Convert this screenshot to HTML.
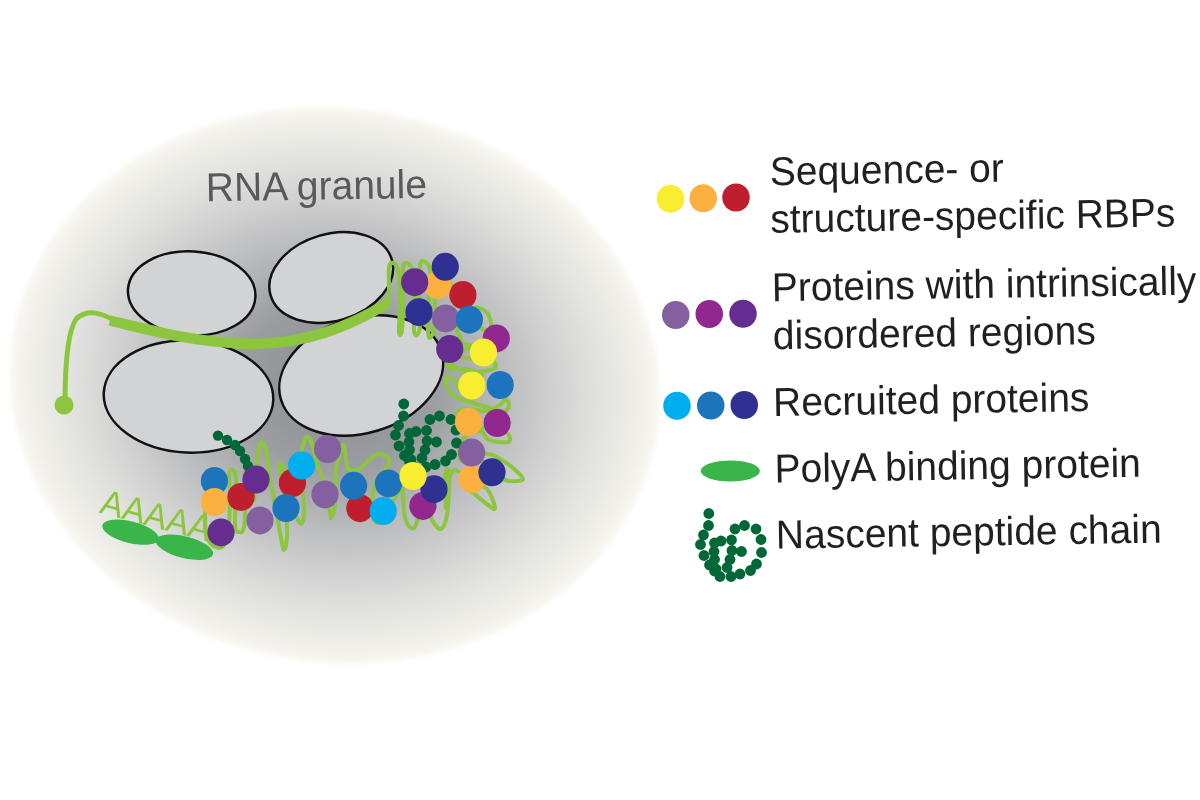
<!DOCTYPE html>
<html><head><meta charset="utf-8">
<style>
html,body{margin:0;padding:0;background:#fff;width:1200px;height:800px;overflow:hidden}
svg{display:block;will-change:transform}
text{font-family:"Liberation Sans",sans-serif}
</style></head>
<body>
<svg width="1200" height="800" viewBox="0 0 1200 800">
<defs>
<radialGradient id="bg" cx="0.5" cy="0.5" r="0.5">
<stop offset="0" stop-color="#8a8b8e"/>
<stop offset="0.3" stop-color="#9c9da0"/>
<stop offset="0.5" stop-color="#b8b9bb"/>
<stop offset="0.7" stop-color="#d4d4d4"/>
<stop offset="0.85" stop-color="#e6e6e2"/>
<stop offset="0.95" stop-color="#f1f0e9"/>
<stop offset="1" stop-color="#f9f8f2"/>
</radialGradient>
<filter id="soft" x="-2%" y="-2%" width="104%" height="104%"><feGaussianBlur stdDeviation="2.5"/></filter>
<g id="chain" fill="#006838">
<circle cx="708.8" cy="513.5" r="5.4"/>
<circle cx="708.5" cy="525.5" r="5.4"/>
<circle cx="703.5" cy="535" r="5.4"/>
<circle cx="700.5" cy="544.5" r="5.4"/>
<circle cx="704" cy="555.5" r="5.4"/>
<circle cx="709.5" cy="565" r="5.4"/>
<circle cx="714.5" cy="571" r="5.4"/>
<circle cx="720" cy="576.5" r="5.4"/>
<circle cx="731" cy="576.5" r="5.4"/>
<circle cx="740" cy="574" r="5.4"/>
<circle cx="750.5" cy="570.5" r="5.4"/>
<circle cx="756.5" cy="564" r="5.4"/>
<circle cx="761.5" cy="552.5" r="5.4"/>
<circle cx="761" cy="539.5" r="5.4"/>
<circle cx="756" cy="529" r="5.4"/>
<circle cx="744.5" cy="525.5" r="5.4"/>
<circle cx="735" cy="529" r="5.4"/>
<circle cx="731.5" cy="540" r="5.4"/>
<circle cx="732" cy="550.5" r="5.4"/>
<circle cx="730" cy="559.5" r="5.4"/>
<circle cx="727" cy="567.5" r="5.4"/>
<circle cx="741.5" cy="551.5" r="5.4"/>
<circle cx="721" cy="541" r="5.4"/>
<circle cx="714.5" cy="543" r="5.4"/>
<circle cx="714" cy="551.5" r="5.4"/>
<circle cx="714.5" cy="559.5" r="5.4"/>
<circle cx="716" cy="569" r="5.4"/>
</g>
</defs>

<!-- granule background -->
<ellipse cx="335" cy="385.3" rx="326" ry="277.4" fill="url(#bg)" filter="url(#soft)" transform="rotate(7.6 335 385.3)"/>

<!-- ribosomes / large grey ellipses -->
<g fill="#d1d3d4" stroke="#111" stroke-width="2.5">
<ellipse cx="191.7" cy="293.3" rx="63.8" ry="42" transform="rotate(3.6 191.7 293.3)"/>
<ellipse cx="331.2" cy="277.5" rx="63.2" ry="43.4" transform="rotate(-16.5 331.2 277.5)"/>
<ellipse cx="188.5" cy="396.6" rx="84.8" ry="56" transform="rotate(2.5 188.5 396.6)"/>
<ellipse cx="361.2" cy="375.5" rx="83.8" ry="57.5" transform="rotate(-16.8 361.2 375.5)"/>
</g>

<!-- mRNA line -->
<g fill="none" stroke="#8cc63f" stroke-linecap="round">
<path d="M112,319 C100,313 88,309 77,318 C67,330 65,370 65,404" stroke-width="5"/>
<path d="M110,320.5 C150,330 200,344 255,344 C305,343 345,329 388,303" stroke-width="10.5" stroke-linecap="butt"/>
</g>
<circle cx="64" cy="405" r="9.5" fill="#8cc63f"/>

<text transform="translate(98.5 512.4) rotate(15) scale(1 1.035)" font-size="34" fill="#8cc63f">AAAAA</text>
<ellipse cx="130.5" cy="532.2" rx="29" ry="10.8" transform="rotate(14 130.5 532.2)" fill="#39b54a"/>
<ellipse cx="184.4" cy="547.2" rx="29.5" ry="10.8" transform="rotate(14 184.4 547.2)" fill="#39b54a"/>
<!-- squiggle -->
<path id="sq" d="M205,512 C205.2,515.3 204.8,526.5 206,532 C207.2,537.5 209.3,542.5 212,545 C214.7,547.5 219.3,548.7 222,547 C224.7,545.3 226.7,542.8 228,535 C229.3,527.2 229.8,510.2 230,500 C230.2,489.8 228.5,479.0 229,474 C229.5,469.0 231.8,469.0 233,470 C234.2,471.0 235.7,470.8 236,480 C236.3,489.2 234.5,516.3 235,525 C235.5,533.7 237.5,531.7 239,532 C240.5,532.3 242.8,534.0 244,527 C245.2,520.0 245.8,499.2 246,490 C246.2,480.8 244.5,475.3 245,472 C245.5,468.7 247.8,468.7 249,470 C250.2,471.3 251.2,475.0 252,480 C252.8,485.0 253.3,501.7 254,500 C254.7,498.3 255.2,478.8 256,470 C256.8,461.2 258.0,451.7 259,447 C260.0,442.3 260.8,441.5 262,442 C263.2,442.5 264.7,444.0 266,450 C267.3,456.0 268.3,468.0 270,478 C271.7,488.0 274.2,500.0 276,510 C277.8,520.0 279.7,531.3 281,538 C282.3,544.7 283.0,550.5 284,550 C285.0,549.5 286.8,543.3 287,535 C287.2,526.7 286.2,510.8 285,500 C283.8,489.2 280.8,476.0 280,470 C279.2,464.0 279.2,464.0 280,464 C280.8,464.0 283.3,464.0 285,470 C286.7,476.0 287.8,491.7 290,500 C292.2,508.3 296.0,516.2 298,520 C300.0,523.8 301.0,524.7 302,523 C303.0,521.3 304.2,518.8 304,510 C303.8,501.2 301.3,480.0 301,470 C300.7,460.0 301.0,455.5 302,450 C303.0,444.5 305.3,438.0 307,437 C308.7,436.0 310.3,439.5 312,444 C313.7,448.5 315.2,458.0 317,464 C318.8,470.0 320.8,472.0 323,480 C325.2,488.0 328.7,505.7 330,512 C331.3,518.3 330.2,519.2 331,518 C331.8,516.8 334.2,512.8 335,505 C335.8,497.2 335.0,480.2 336,471 C337.0,461.8 339.7,454.2 341,450 C342.3,445.8 343.0,443.3 344,446 C345.0,448.7 345.8,462.0 347,466 C348.2,470.0 348.7,469.7 351,470 C353.3,470.3 357.0,470.5 361,468 C365.0,465.5 370.8,457.0 375,455 C379.2,453.0 383.7,454.7 386,456 C388.3,457.3 389.3,460.5 389,463 C388.7,465.5 386.2,467.8 384,471 C381.8,474.2 378.2,476.3 376,482 C373.8,487.7 371.5,499.0 371,505 C370.5,511.0 371.5,515.2 373,518 C374.5,520.8 376.5,525.0 380,522 C383.5,519.0 390.3,505.7 394,500 C397.7,494.3 400.3,486.0 402,488 C403.7,490.0 403.0,505.8 404,512 C405.0,518.2 406.3,522.3 408,525 C409.7,527.7 412.3,529.2 414,528 C415.7,526.8 416.7,522.7 418,518 C419.3,513.3 420.3,502.2 422,500 C423.7,497.8 426.3,501.7 428,505 C429.7,508.3 429.8,516.0 432,520 C434.2,524.0 438.5,529.8 441,529 C443.5,528.2 445.7,521.5 447,515 C448.3,508.5 448.7,497.2 449,490 C449.3,482.8 449.5,475.2 449,472 C448.5,468.8 446.7,468.0 446,471 C445.3,474.0 445.0,483.8 445,490 C445.0,496.2 445.8,505.0 446,508 M446,508 C446.5,503.3 447.5,486.3 449,480 C450.5,473.7 451.5,470.0 455,470 C458.5,470.0 464.7,476.8 470,480 C475.3,483.2 482.8,484.3 487,489 C491.2,493.7 494.8,505.3 495,508 C495.2,510.7 491.8,507.7 488,505 C484.2,502.3 475.7,495.0 472,492 C468.3,489.0 466.3,490.7 466,487 C465.7,483.3 466.8,475.5 470,470 C473.2,464.5 479.2,455.3 485,454 C490.8,452.7 498.7,457.8 505,462 C511.3,466.2 523.0,476.0 523,479 C523.0,482.0 509.7,481.5 505,480 C500.3,478.5 500.8,474.2 495,470 C489.2,465.8 475.8,456.7 470,455 C464.2,453.3 461.3,462.5 460,460 C458.7,457.5 458.7,444.8 462,440 C465.3,435.2 475.5,431.0 480,431 C484.5,431.0 484.3,438.2 489,440 C493.7,441.8 504.8,443.0 508,442 C511.2,441.0 510.0,436.3 508,434 C506.0,431.7 502.3,429.0 496,428 C489.7,427.0 476.3,427.7 470,428 C463.7,428.3 460.2,432.2 458,430 C455.8,427.8 456.3,418.5 457,415 C457.7,411.5 458.8,409.8 462,409 C465.2,408.2 471.5,409.7 476,410 C480.5,410.3 485.0,411.8 489,411 C493.0,410.2 497.2,407.0 500,405 C502.8,403.0 504.5,398.8 506,399 C507.5,399.2 509.3,404.0 509,406 C508.7,408.0 507.2,410.7 504,411 C500.8,411.3 495.7,409.5 490,408 C484.3,406.5 475.3,403.7 470,402 C464.7,400.3 461.5,399.8 458,398 C454.5,396.2 451.0,394.3 449,391 C447.0,387.7 445.2,379.8 446,378 C446.8,376.2 451.7,378.0 454,380 C456.3,382.0 457.3,389.2 460,390 C462.7,390.8 466.3,387.3 470,385 C473.7,382.7 482.0,378.5 482,376 C482.0,373.5 475.3,371.3 470,370 C464.7,368.7 453.5,369.0 450,368 C446.5,367.0 445.8,363.3 449,364 C452.2,364.7 461.7,371.2 469,372 C476.3,372.8 488.8,370.7 493,369 C497.2,367.3 496.2,363.5 494,362 C491.8,360.5 485.3,360.8 480,360 C474.7,359.2 465.2,358.3 462,357 C458.8,355.7 459.3,353.8 461,352 C462.7,350.2 471.8,347.5 472,346 C472.2,344.5 464.0,344.7 462,343 C460.0,341.3 460.8,338.0 460,336 C459.2,334.0 456.7,333.2 457,331 C457.3,328.8 459.0,326.8 462,323 C465.0,319.2 471.2,310.0 475,308 C478.8,306.0 482.7,309.7 485,311 C487.3,312.3 488.0,313.5 489,316 C490.0,318.5 491.7,323.7 491,326 C490.3,328.3 488.5,331.0 485,330 C481.5,329.0 475.0,326.7 470,320 C465.0,313.3 458.7,296.7 455,290 C451.3,283.3 450.5,283.3 448,280 C445.5,276.7 441.3,271.7 440,270 M440,270 C439.3,273.3 437.0,280.7 436,290 C435.0,299.3 434.8,318.2 434,326 C433.2,333.8 432.0,335.8 431,337 C430.0,338.2 428.3,339.2 428,333 C427.7,326.8 428.7,310.5 429,300 C429.3,289.5 430.7,276.3 430,270 C429.3,263.7 426.7,262.8 425,262 C423.3,261.2 421.0,258.7 420,265 C419.0,271.3 419.0,290.0 419,300 C419.0,310.0 420.3,319.2 420,325 C419.7,330.8 418.0,334.2 417,335 C416.0,335.8 414.5,335.8 414,330 C413.5,324.2 414.3,310.0 414,300 C413.7,290.0 413.2,276.2 412,270 C410.8,263.8 408.5,263.3 407,263 C405.5,262.7 403.7,261.8 403,268 C402.3,274.2 403.2,289.7 403,300 C402.8,310.3 402.7,324.7 402,330 C401.3,335.3 399.3,337.0 399,332 C398.7,327.0 400.2,310.3 400,300 C399.8,289.7 399.2,276.2 398,270 C396.8,263.8 394.5,263.5 393,263 C391.5,262.5 389.7,262.5 389,267 C388.3,271.5 389.2,284.0 389,290 C388.8,296.0 388.2,300.8 388,303" fill="none" stroke="#8cc63f" stroke-width="4" stroke-linejoin="round" stroke-linecap="round"/>
<!-- /squiggle -->
<use href="#chain" transform="translate(-305 -109.5)"/>
<g fill="#006838"><circle cx="218" cy="435.6" r="5.2"/><circle cx="227" cy="440" r="5.2"/><circle cx="235" cy="445" r="5.2"/><circle cx="240" cy="451" r="5.2"/><circle cx="245" cy="459" r="5.2"/><circle cx="248" cy="466" r="5.2"/></g>
<!-- protein dots -->
<g id="dots">
<ellipse cx="214.4" cy="481" rx="13.6" ry="14" fill="#1c75bc"/>
<ellipse cx="214.4" cy="502" rx="13.6" ry="14" fill="#fbb040"/>
<ellipse cx="221" cy="532.4" rx="13.6" ry="14" fill="#662d91"/>
<ellipse cx="241" cy="497" rx="13.6" ry="14" fill="#be1e2d"/>
<ellipse cx="256" cy="479.6" rx="13.6" ry="14" fill="#662d91"/>
<ellipse cx="260" cy="520.4" rx="13.6" ry="14" fill="#8560a0"/>
<ellipse cx="292.4" cy="483" rx="13.6" ry="14" fill="#be1e2d"/>
<ellipse cx="301.6" cy="465.6" rx="13.6" ry="14" fill="#00aeef"/>
<ellipse cx="286" cy="508" rx="13.6" ry="14" fill="#1c75bc"/>
<ellipse cx="327.6" cy="449" rx="13.6" ry="14" fill="#8560a0"/>
<ellipse cx="325" cy="494.4" rx="13.6" ry="14" fill="#8560a0"/>
<ellipse cx="359.9" cy="508.2" rx="13.6" ry="14" fill="#be1e2d"/>
<ellipse cx="353.6" cy="485.8" rx="13.6" ry="14" fill="#1c75bc"/>
<ellipse cx="388.5" cy="483.4" rx="13.6" ry="14" fill="#1c75bc"/>
<ellipse cx="383.2" cy="511" rx="13.6" ry="14" fill="#00aeef"/>
<ellipse cx="422.9" cy="505.9" rx="13.6" ry="14" fill="#92278f"/>
<ellipse cx="434" cy="489.2" rx="13.6" ry="14" fill="#2e3192"/>
<ellipse cx="413" cy="476" rx="13.6" ry="14" fill="#f9ed32"/>
<ellipse cx="471.8" cy="479.2" rx="13.6" ry="14" fill="#fbb040"/>
<ellipse cx="471.6" cy="452.6" rx="13.6" ry="14" fill="#8560a0"/>
<ellipse cx="492" cy="472.3" rx="13.6" ry="14" fill="#2e3192"/>
<ellipse cx="468.5" cy="422" rx="13.6" ry="14" fill="#fbb040"/>
<ellipse cx="497.2" cy="423" rx="13.6" ry="14" fill="#92278f"/>
<ellipse cx="471.9" cy="385.5" rx="13.6" ry="14" fill="#f9ed32"/>
<ellipse cx="500.2" cy="385" rx="13.6" ry="14" fill="#1c75bc"/>
<ellipse cx="496.25" cy="338.4" rx="13.6" ry="14" fill="#92278f"/>
<ellipse cx="483.5" cy="352.5" rx="13.6" ry="14" fill="#f9ed32"/>
<ellipse cx="449.75" cy="349.1" rx="13.6" ry="14" fill="#662d91"/>
<ellipse cx="445.6" cy="318.4" rx="13.6" ry="14" fill="#8560a0"/>
<ellipse cx="462.9" cy="295" rx="13.6" ry="14" fill="#be1e2d"/>
<ellipse cx="469.4" cy="319.7" rx="13.6" ry="14" fill="#1c75bc"/>
<ellipse cx="419" cy="312.2" rx="13.6" ry="14" fill="#2e3192"/>
<ellipse cx="437.75" cy="285" rx="13.6" ry="14" fill="#fbb040"/>
<ellipse cx="414.7" cy="282.2" rx="13.6" ry="14" fill="#662d91"/>
<ellipse cx="445.25" cy="266.8" rx="13.6" ry="14" fill="#2e3192"/>
</g>
<!-- label -->
<text transform="translate(206.1 201.3) rotate(-0.9) scale(1 1.035)" font-size="39" fill="#58595b">RNA granule</text>

<!-- legend -->
<g font-size="39" fill="#231f20">
<text transform="translate(770 185.2) rotate(-0.9) scale(1 1.035)">Sequence- or</text>
<text transform="translate(770.5 232.7) rotate(-0.9) scale(1 1.035)">structure-specific RBPs</text>
<text transform="translate(772 301.2) rotate(-0.9) scale(1 1.035)">Proteins with intrinsically</text>
<text transform="translate(773.1 349.2) rotate(-0.9) scale(1 1.035)">disordered regions</text>
<text transform="translate(773.25 415.95) rotate(-0.9) scale(1 1.035)">Recruited proteins</text>
<text transform="translate(774.75 482.4) rotate(-0.9) scale(1 1.035)">PolyA binding protein</text>
<text transform="translate(776.1 548.6) rotate(-0.9) scale(1 1.035)">Nascent peptide chain</text>
</g>
<g>
<ellipse cx="670.5" cy="198.75" rx="13.75" ry="14.1" fill="#f9ed32"/>
<ellipse cx="703.25" cy="198.25" rx="13.75" ry="14.1" fill="#fbb040"/>
<ellipse cx="736" cy="197.5" rx="13.75" ry="14.1" fill="#be1e2d"/>
<ellipse cx="675.75" cy="315" rx="13.75" ry="14.1" fill="#8560a0"/>
<ellipse cx="709.25" cy="314" rx="13.75" ry="14.1" fill="#92278f"/>
<ellipse cx="743" cy="313.75" rx="13.75" ry="14.1" fill="#662d91"/>
<ellipse cx="677" cy="405.75" rx="13.75" ry="14.1" fill="#00aeef"/>
<ellipse cx="710.75" cy="405.5" rx="13.75" ry="14.1" fill="#1c75bc"/>
<ellipse cx="744.25" cy="405" rx="13.75" ry="14.1" fill="#2e3192"/>
<ellipse cx="730.3" cy="471" rx="29.6" ry="10.5" fill="#39b54a"/>
<use href="#chain"/>
</g>
</svg>
</body></html>
